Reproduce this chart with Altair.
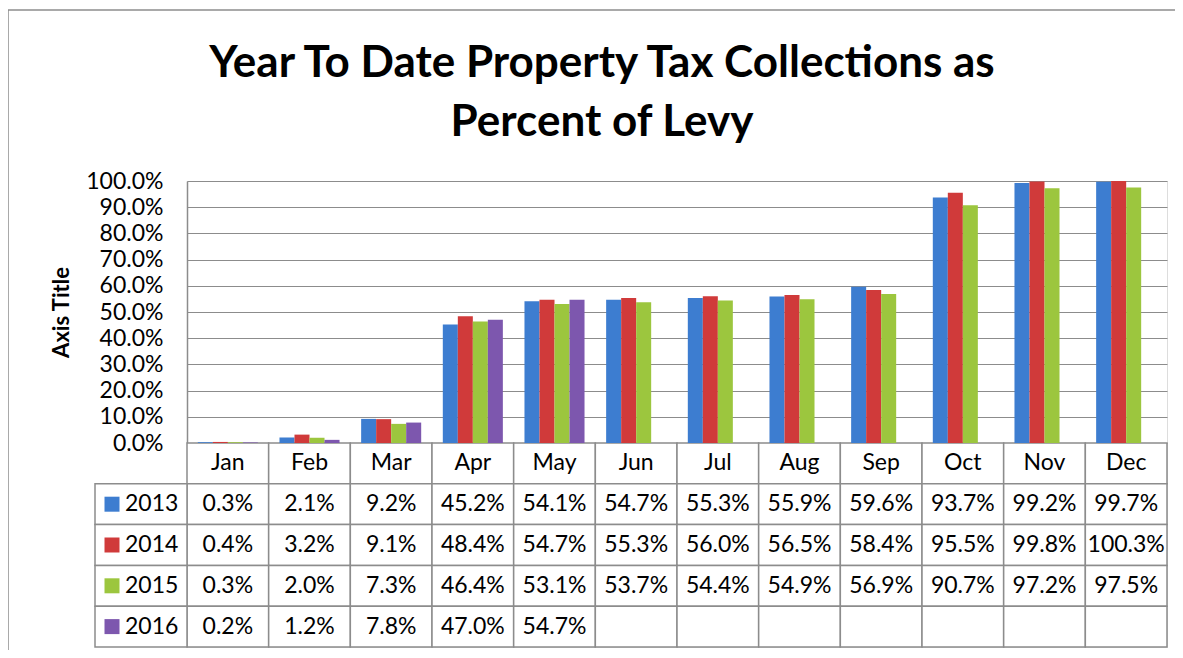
import altair as alt
import pandas as pd

months = ["Jan", "Feb", "Mar", "Apr", "May", "Jun", "Jul", "Aug", "Sep", "Oct", "Nov", "Dec"]
years = ["2013", "2014", "2015", "2016"]
v2013 = [0.3, 2.1, 9.2, 45.2, 54.1, 54.7, 55.3, 55.9, 59.6, 93.7, 99.2, 99.7]
v2014 = [0.4, 3.2, 9.1, 48.4, 54.7, 55.3, 56.0, 56.5, 58.4, 95.5, 99.8, 100.3]
v2015 = [0.3, 2.0, 7.3, 46.4, 53.1, 53.7, 54.4, 54.9, 56.9, 90.7, 97.2, 97.5]
v2016 = [0.2, 1.2, 7.8, 47.0, 54.7, None, None, None, None, None, None, None]
colors = ["#3D7DD0", "#D03A3A", "#9CC63E", "#7D57AE"]
ytick_values = [0, 10, 20, 30, 40, 50, 60, 70, 80, 90, 100]
title_lines = ["Year To Date Property Tax Collections as", "Percent of Levy"]

FONT = "Lato"
GRID = "#8c8c8c"
FS = 23

series = {"2013": v2013, "2014": v2014, "2015": v2015, "2016": v2016}
rows = []
for yr, vals in series.items():
    for m, v in zip(months, vals):
        rows.append({"month": m, "year": yr, "value": v})
df = pd.DataFrame(rows)

row_keys = ["hdr"] + years
cells = []
for r in row_keys:
    for i, m in enumerate(months):
        if r == "hdr":
            txt = m
        else:
            v = series[r][i]
            txt = ("%.1f%%" % v) if v is not None else ""
        cells.append({"month": m, "row": r, "text": txt})
cells_df = pd.DataFrame(cells)
legend_df = pd.DataFrame({"row": years, "year": years})
one_df = pd.DataFrame({"k": [0]})

xscale = alt.Scale(domain=months, paddingInner=0, paddingOuter=0)
tscale = alt.Scale(domain=row_keys, range=[262, 466], paddingInner=0, paddingOuter=0)

bars = alt.Chart(df).mark_bar().encode(
    x=alt.X("month:N", scale=xscale, axis=None),
    xOffset=alt.XOffset("year:N", scale=alt.Scale(domain=years, paddingInner=0, paddingOuter=0.72)),
    y=alt.Y("value:Q", scale=alt.Scale(domain=[0, 100], range=[262, 0], clamp=True),
            axis=alt.Axis(values=ytick_values, labelExpr="format(datum.value, '.1f') + '%'",
                          title="Axis Title", titleFont=FONT, titleFontSize=22, titleFontWeight="bold",
                          titleColor="black", titlePadding=12, labelFont=FONT, labelFontSize=FS,
                          labelColor="black", labelPadding=24, ticks=False, grid=True,
                          gridColor=GRID, gridWidth=1.2, domainColor=GRID, domainWidth=1.5)),
    color=alt.Color("year:N", scale=alt.Scale(domain=years, range=colors), legend=None),
)

frame_top = alt.Chart(one_df).mark_rule(stroke=GRID, strokeWidth=1.5).encode(
    x=alt.value(-179), x2=alt.value(1100), y=alt.value(-171))
frame_left = alt.Chart(one_df).mark_rule(stroke=GRID, strokeWidth=1.5).encode(
    x=alt.value(-179), y=alt.value(-171), y2=alt.value(600))

title1 = alt.Chart(one_df).mark_text(
    text=title_lines[0], font=FONT, fontSize=44, fontWeight="bold", color="black",
    align="center", baseline="alphabetic").encode(x=alt.value(415), y=alt.value(-104))
title2 = alt.Chart(one_df).mark_text(
    text=title_lines[1], font=FONT, fontSize=44, fontWeight="bold", color="black",
    align="center", baseline="alphabetic").encode(x=alt.value(415), y=alt.value(-45))

cell_rects = alt.Chart(cells_df).mark_rect(fill="white", stroke=GRID, strokeWidth=1.5).encode(
    x=alt.X("month:N", scale=xscale, axis=None),
    y=alt.Y("row:N", scale=tscale, axis=None),
)
cell_text = alt.Chart(cells_df).mark_text(font=FONT, fontSize=FS, color="black").encode(
    x=alt.X("month:N", scale=xscale, axis=None),
    y=alt.Y("row:N", scale=tscale, axis=None),
    text="text:N",
)
leg_rects = alt.Chart(legend_df).mark_rect(fill="white", stroke=GRID, strokeWidth=1.5).encode(
    x=alt.value(-92), x2=alt.value(0),
    y=alt.Y("row:N", scale=tscale, axis=None),
)
leg_sq = alt.Chart(legend_df).mark_square(size=225, opacity=1).encode(
    x=alt.value(-75),
    y=alt.Y("row:N", scale=tscale, axis=None),
    color=alt.Color("year:N", scale=alt.Scale(domain=years, range=colors), legend=None),
)
leg_text = alt.Chart(legend_df).mark_text(font=FONT, fontSize=FS, color="black", align="left").encode(
    x=alt.value(-62),
    y=alt.Y("row:N", scale=tscale, axis=None),
    text="year:N",
)

chart = alt.layer(frame_top, frame_left, title1, title2, cell_rects, cell_text,
                  leg_rects, leg_sq, leg_text, bars).resolve_scale(
    y="independent"
).properties(
    width=980, height=466,
    autosize=alt.AutoSizeParams(type="none"),
    padding={"left": 179, "top": 173, "right": 8, "bottom": 3},
).configure_view(stroke=None).configure(background="white")

chart.save("out.html", embed_options={"renderer": "svg", "actions": False})
